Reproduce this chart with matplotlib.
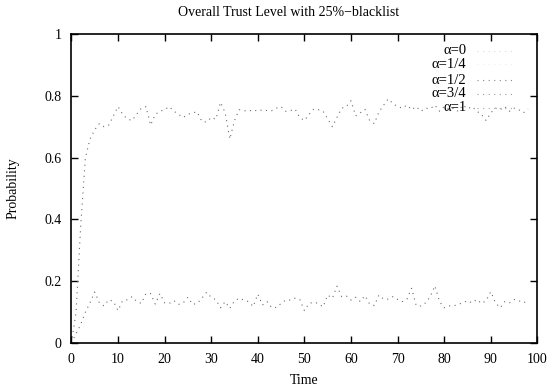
import matplotlib
matplotlib.use("Agg")
import matplotlib.pyplot as plt
import numpy as np

# ---- data ----
time = list(range(0, 99))
trust_high = [0.0, 0.10, 0.38, 0.60, 0.66, 0.69, 0.71, 0.70, 0.705, 0.735,
              0.765, 0.74, 0.725, 0.72, 0.74, 0.76, 0.765, 0.705, 0.74, 0.75,
              0.755, 0.765, 0.75, 0.74, 0.73, 0.74, 0.745, 0.748, 0.717, 0.715,
              0.73, 0.724, 0.779, 0.745, 0.66, 0.72, 0.755, 0.752, 0.75, 0.755,
              0.75, 0.755, 0.752, 0.752, 0.76, 0.765, 0.75, 0.752, 0.757, 0.73,
              0.72, 0.74, 0.757, 0.755, 0.75, 0.725, 0.70, 0.73, 0.76, 0.765,
              0.784, 0.735, 0.745, 0.756, 0.72, 0.71, 0.748, 0.77, 0.79, 0.775,
              0.765, 0.76, 0.77, 0.755, 0.765, 0.75, 0.76, 0.758, 0.77, 0.75,
              0.765, 0.755, 0.76, 0.75, 0.77, 0.758, 0.765, 0.75, 0.74, 0.72,
              0.745, 0.76, 0.755, 0.765, 0.75, 0.76, 0.755, 0.745, 0.757]
trust_low = [0.0, 0.03, 0.06, 0.10, 0.13, 0.165, 0.13, 0.12, 0.14, 0.135,
             0.105, 0.137, 0.14, 0.15, 0.135, 0.128, 0.16, 0.16, 0.126, 0.16,
             0.13, 0.128, 0.137, 0.125, 0.13, 0.148, 0.125, 0.128, 0.145, 0.164,
             0.148, 0.14, 0.114, 0.134, 0.112, 0.136, 0.145, 0.139, 0.134, 0.118,
             0.158, 0.123, 0.134, 0.114, 0.115, 0.128, 0.139, 0.139, 0.145, 0.141,
             0.105, 0.128, 0.132, 0.128, 0.117, 0.155, 0.145, 0.184, 0.15, 0.152,
             0.139, 0.148, 0.134, 0.153, 0.126, 0.121, 0.155, 0.142, 0.142, 0.15,
             0.141, 0.134, 0.142, 0.177, 0.121, 0.12, 0.13, 0.15, 0.185, 0.134,
             0.114, 0.12, 0.12, 0.125, 0.13, 0.137, 0.13, 0.141, 0.128, 0.137,
             0.166, 0.13, 0.114, 0.134, 0.13, 0.141, 0.137, 0.13, 0.137]
legend_labels = ["\u03b1=0", "\u03b1=1/4", "\u03b1=1/2", "\u03b1=3/4", "\u03b1=1"]
x_ticks = [0, 10, 20, 30, 40, 50, 60, 70, 80, 90, 100]
y_ticks = [0, 0.2, 0.4, 0.6, 0.8, 1]
y_ticklabels = ["0", "0.2", "0.4", "0.6", "0.8", "1"]

plt.rcParams['font.family'] = ['Liberation Serif', 'DejaVu Serif']
plt.rcParams['font.size'] = 10

fig = plt.figure(figsize=(5.48, 3.88), dpi=100)
ax = fig.add_axes([71.4 / 548, (388 - 343) / 388, (537.4 - 71.4) / 548, (343 - 34) / 388])

dot = (0, (1, 4))
ax.plot(time, trust_high, color='#6a6a6a', lw=0.8, linestyle=dot)
ax.plot(time, trust_low, color='#6a6a6a', lw=0.8, linestyle=dot)

ax.set_xlim(0, 100)
ax.set_ylim(0, 1)
ax.set_xticks(x_ticks)
ax.set_yticks(y_ticks)
ax.set_yticklabels(y_ticklabels)
ax.tick_params(direction='in', length=5, width=1, top=True, right=True,
               labelsize=10, pad=7)
for s in ax.spines.values():
    s.set_linewidth(1.2)

fig.text(289 / 548, 1 - 12 / 388, "Overall Trust Level with 25%\u2212blacklist",
         ha='center', va='center', fontsize=10)
ax.set_xlabel("Time", fontsize=10, labelpad=6)
ax.set_ylabel("Probability", fontsize=10, labelpad=18)

# manual gnuplot-style key: right-aligned text followed by line sample
sample_colors = ['#dddddd', '#eeeeee', '#888888', '#999999', '#aaaaaa']
row_y = [0.945, 0.902, 0.850, 0.807, 0.762]
for lab, yy, c in zip(legend_labels, row_y, sample_colors):
    ax.text(0.848, yy, lab, transform=ax.transAxes, ha='right', va='center',
            fontsize=10.5)
    ax.plot([0.87, 0.95], [yy, yy], transform=ax.transAxes, color=c,
            lw=0.8, linestyle=dot)

fig.savefig("out.png", dpi=100)
